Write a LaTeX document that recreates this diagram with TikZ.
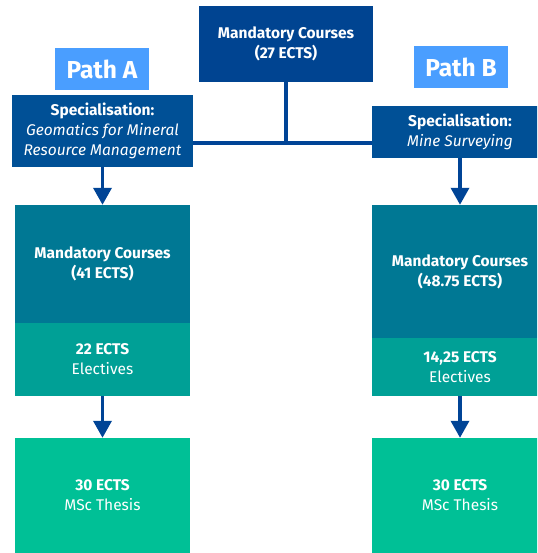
\documentclass[tikz,border=0pt]{standalone}
\usepackage{fontspec}
\setmainfont{Fira Sans}
\usetikzlibrary{arrows.meta}

\definecolor{topblue}{RGB}{0,68,145}
\definecolor{specblue}{RGB}{0,80,150}
\definecolor{pathblue}{RGB}{74,158,255}
\definecolor{mandteal}{RGB}{0,120,148}
\definecolor{electeal}{RGB}{0,160,150}
\definecolor{thesisgreen}{RGB}{0,192,150}
\definecolor{linkblue}{RGB}{0,68,150}

\tikzset{
	box/.style={inner sep=0pt,align=center,text=white,font=\fontsize{15.5}{20}\selectfont},
	pathlabel/.style={box,fill=pathblue,minimum width=94pt,minimum height=42pt,font=\fontsize{24.5}{26}\selectfont\bfseries},
	link/.style={linkblue,line width=3.5pt},
	flow/.style={link,-{Triangle[width=18pt,length=17pt]}}
}

\begin{document}
\begin{tikzpicture}[x=1pt,y=-1pt]
		\clip (0,0) rectangle (537,553);
		\node[box,fill=topblue,minimum width=174pt,minimum height=76pt] (core) at (286,44) {\textbf{Mandatory Courses}\\\textbf{(27 ECTS)}};
		\node[pathlabel] (pathA) at (102,69) {Path A};
		\node[pathlabel] (pathB) at (461,67) {Path B};
		\node[box,fill=specblue,minimum width=181pt,minimum height=72pt] (specA) at (102.5,131) {\textbf{Specialisation:}\\\textit{Geomatics for Mineral}\\\textit{Resource Management}};
		\node[box,fill=specblue,minimum width=176pt,minimum height=52pt] (specB) at (460,132) {\textbf{Specialisation:}\\\textit{Mine Surveying}};
		\node[box,fill=mandteal,minimum width=175pt,minimum height=118pt] (mandA) at (102.5,264) {\textbf{Mandatory Courses}\\\textbf{(41 ECTS)}};
		\node[box,fill=electeal,minimum width=175pt,minimum height=73pt] (elecA) at (102.5,359.5) {\textbf{22 ECTS}\\Electives};
		\node[box,fill=thesisgreen,minimum width=175pt,minimum height=115pt] (thesisA) at (102.5,495.5) {\textbf{30 ECTS}\\MSc Thesis};
		\node[box,fill=mandteal,minimum width=176pt,minimum height=133pt] (mandB) at (460,271.5) {\textbf{Mandatory Courses}\\\textbf{(48.75 ECTS)}};
		\node[box,fill=electeal,minimum width=176pt,minimum height=58pt] (elecB) at (460,367) {\textbf{14,25 ECTS}\\Electives};
		\node[box,fill=thesisgreen,minimum width=176pt,minimum height=115pt] (thesisB) at (460,495.5) {\textbf{30 ECTS}\\MSc Thesis};
		\coordinate (split) at (286,143);
		\draw[link] (core.south) -- (split);
		\draw[link] (specA.east |- split) -- (specB.west |- split);
		\draw[flow] (specA.south) -- (mandA.north);
		\draw[flow] (specB.south) -- (mandB.north);
		\draw[flow] (elecA.south) -- (thesisA.north);
		\draw[flow] (elecB.south) -- (thesisB.north);
	\end{tikzpicture}
\end{document}
